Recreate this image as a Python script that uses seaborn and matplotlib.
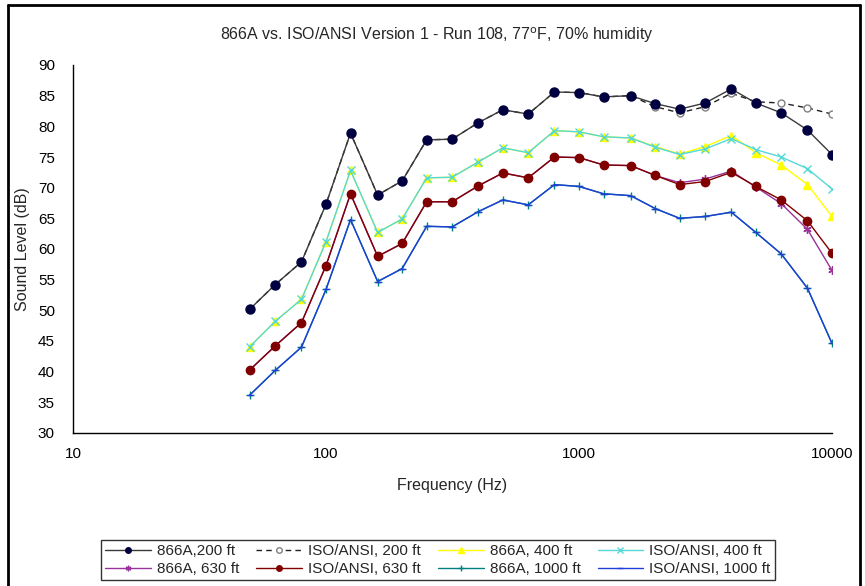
import numpy as np
import pandas as pd
import matplotlib
matplotlib.use("Agg")
import matplotlib.pyplot as plt
import seaborn as sns

# 1/3 octave band centre frequencies (Hz)
freq = [50, 63, 80, 100, 125, 160, 200, 250, 315, 400, 500, 630, 800,
        1000, 1250, 1600, 2000, 2500, 3150, 4000, 5000, 6300, 8000, 10000]

# sound levels (dB)
m866_200 = [50.2, 54.2, 57.9, 67.3, 78.9, 68.8, 71.1, 77.8, 77.9, 80.6, 82.7, 82.0,
            85.6, 85.5, 84.8, 85.0, 83.7, 82.8, 83.8, 86.1, 83.8, 82.2, 79.4, 75.4]
iso_200 = [50.2, 54.2, 57.9, 67.3, 78.9, 68.8, 71.1, 77.8, 77.9, 80.6, 82.7, 82.0,
           85.6, 85.5, 84.8, 85.0, 83.2, 82.2, 83.2, 85.4, 84.0, 83.8, 83.0, 82.0]
m866_400 = [44.1, 48.2, 51.8, 61.2, 72.8, 62.7, 64.9, 71.6, 71.7, 74.2, 76.5, 75.7,
            79.3, 79.1, 78.3, 78.1, 76.7, 75.5, 76.7, 78.5, 75.7, 73.7, 70.5, 65.3]
iso_400 = [44.1, 48.2, 51.8, 61.2, 72.8, 62.7, 64.9, 71.6, 71.7, 74.2, 76.5, 75.7,
           79.3, 79.1, 78.3, 78.1, 76.6, 75.4, 76.3, 78.0, 76.2, 75.0, 73.1, 69.8]
m866_630 = [40.3, 44.2, 48.0, 57.3, 69.0, 58.8, 60.9, 67.7, 67.7, 70.3, 72.4, 71.6,
            75.0, 74.9, 73.7, 73.6, 72.0, 70.8, 71.4, 72.7, 70.1, 67.4, 63.2, 56.5]
iso_630 = [40.3, 44.2, 48.0, 57.3, 69.0, 58.8, 60.9, 67.7, 67.7, 70.3, 72.4, 71.6,
           75.0, 74.9, 73.7, 73.6, 72.0, 70.5, 71.0, 72.5, 70.2, 68.0, 64.6, 59.3]
m866_1000 = [36.2, 40.2, 44.0, 53.4, 64.8, 54.7, 56.8, 63.7, 63.6, 66.1, 68.0, 67.2,
             70.5, 70.2, 69.0, 68.7, 66.6, 65.0, 65.3, 66.0, 62.7, 59.2, 53.6, 44.6]
iso_1000 = [36.2, 40.2, 44.0, 53.4, 64.8, 54.7, 56.8, 63.7, 63.6, 66.1, 68.0, 67.2,
            70.5, 70.2, 69.0, 68.7, 66.6, 65.0, 65.3, 66.0, 62.7, 59.2, 53.6, 44.6]

labels = ["866A,200 ft", "ISO/ANSI, 200 ft", "866A, 400 ft", "ISO/ANSI, 400 ft",
          "866A, 630 ft", "ISO/ANSI, 630 ft", "866A, 1000 ft", "ISO/ANSI, 1000 ft"]
series = [m866_200, iso_200, m866_400, iso_400, m866_630, iso_630, m866_1000, iso_1000]

# line styles (Excel look)
styles = [
    dict(color="#3a3a3a", marker="o", ms=6.5, mfc="#000040", mec="#000040", ls="-", z=6),
    dict(color="#202020", marker="o", ms=5, mfc="white", mec="#808080", ls=(0, (4, 3)), z=5),
    dict(color="#FFFF00", marker="^", ms=6, mfc="#FFFF00", mec="#FFFF00", ls="-", z=3),
    dict(color="#55D8D8", marker="x", ms=6, mfc="#55D8D8", mec="#55D8D8", ls="-", z=4),
    dict(color="#993399", marker=(6, 2, 0), ms=6, mfc="#993399", mec="#993399", ls="-", z=3),
    dict(color="#800000", marker="o", ms=6, mfc="#800000", mec="#800000", ls="-", z=4),
    dict(color="#008080", marker="+", ms=6, mfc="#008080", mec="#008080", ls="-", z=3),
    dict(color="#1F3FD8", marker="_", ms=5, mfc="#1F3FD8", mec="#1F3FD8", ls="-", z=4),
]

sns.set_theme(style="white")
plt.rcParams["font.family"] = ["Liberation Sans", "DejaVu Sans"]

fig = plt.figure(figsize=(8.65, 5.86), dpi=100)
W, H = 865, 586
ax = fig.add_axes([73 / W, 1 - 433 / H, (832 - 73) / W, (433 - 65) / H])

for lab, vals, st in zip(labels, series, styles):
    df = pd.DataFrame({"freq": freq, "level": vals})
    sns.lineplot(data=df, x="freq", y="level", ax=ax, label=lab, lw=1,
                 color=st["color"], linestyle=st["ls"], marker=st["marker"],
                 markersize=st["ms"], markerfacecolor=st["mfc"],
                 markeredgecolor=st["mec"], markeredgewidth=1, zorder=st["z"])

ax.set_xscale("log")
ax.set_xlim(10, 10000)
ax.set_ylim(30, 90)
ax.set_yticks(range(30, 91, 5))
ax.set_xticks([10, 100, 1000, 10000])
ax.set_xticklabels(["10", "100", "1000", "10000"])
ax.minorticks_off()
ax.tick_params(axis="both", direction="in", length=4, width=1, color="black",
               labelsize=11, labelcolor="black", pad=13)
ax.tick_params(axis="x", pad=10)
for s in ["top", "right"]:
    ax.spines[s].set_visible(False)
for s in ["left", "bottom"]:
    ax.spines[s].set_color("black")
    ax.spines[s].set_linewidth(1)
ax.set_xlabel("Frequency (Hz)", fontsize=11.5, labelpad=12)
ax.set_ylabel("Sound Level (dB)", fontsize=11.5)
ax.yaxis.set_label_coords((30 - 73) / (832 - 73), 0.5)
fig.text(437 / W, 1 - 35 / H,
         "866A vs. ISO/ANSI Version 1 - Run 108, 77$^{\\mathrm{o}}$F, 70% humidity",
         fontsize=11.5, ha="center", va="center")

handles, labs = ax.get_legend_handles_labels()
ax.get_legend().remove()
order = [0, 4, 1, 5, 2, 6, 3, 7]
leg = fig.legend([handles[i] for i in order], [labs[i] for i in order],
                 loc="center", bbox_to_anchor=(438 / W, 1 - 560 / H), ncol=4,
                 fontsize=11, frameon=True, fancybox=False, edgecolor="black",
                 borderpad=0.25, handlelength=3.0, handletextpad=0.4,
                 columnspacing=1.1, labelspacing=0.25)
leg.get_frame().set_linewidth(1)
for h in leg.legend_handles:
    h.set_markersize(4)

# chart area border
fig.add_artist(plt.Line2D([8 / W, 8 / W], [0, 1 - 5 / H], color="black", lw=2, transform=fig.transFigure))
fig.add_artist(plt.Line2D([8 / W, 860 / W], [1 - 5 / H, 1 - 5 / H], color="black", lw=2, transform=fig.transFigure))
fig.add_artist(plt.Line2D([860 / W, 860 / W], [0, 1 - 5 / H], color="black", lw=2, transform=fig.transFigure))

fig.savefig("out.png", dpi=100)
